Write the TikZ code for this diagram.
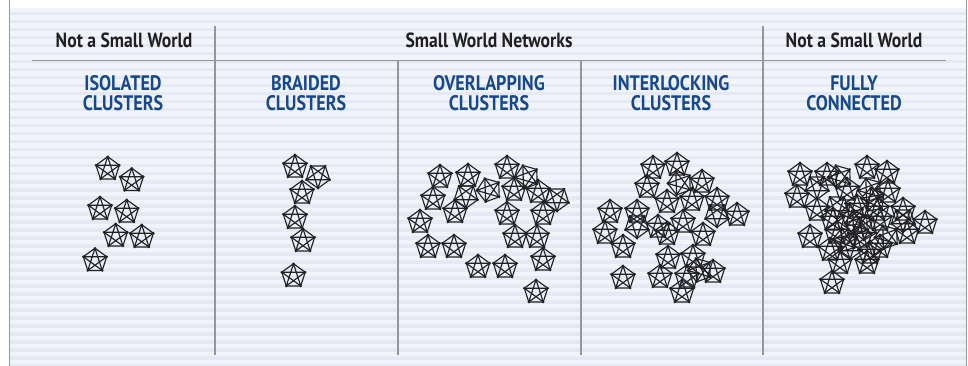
\documentclass[tikz,border=0pt]{standalone}
\usepackage{fontspec}
\newfontfamily\labelfont[FakeStretch=0.86]{PT Sans}
\definecolor{panelA}{RGB}{241,244,250}
\definecolor{panelB}{RGB}{228,233,243}
\definecolor{rulegray}{RGB}{150,150,152}
\definecolor{titleblue}{RGB}{22,72,138}
\definecolor{headink}{RGB}{35,31,32}
\definecolor{netink}{RGB}{34,34,36}
\tikzset{
  rulestyle/.style={draw=rulegray, line width=1.2pt},
  headstyle/.style={font={\labelfont\bfseries\fontsize{20.5}{22}\selectfont}, text=headink, inner sep=0pt},
  titlestyle/.style={font={\labelfont\bfseries\fontsize{21}{20}\selectfont}, text=titleblue, align=center, inner sep=0pt},
  k5edge/.style={draw=netink, line width=1.15pt, line join=round},
  k5/.pic={
    \foreach \i in {1,...,5} \coordinate (-\i) at (-90+72*\i-72:12.3);
    \draw[k5edge] (-1)--(-2)--(-3)--(-4)--(-5)--cycle;
    \draw[k5edge] (-1)--(-3)--(-5)--(-2)--(-4)--cycle;
    \foreach \i in {1,...,5} \fill[netink] (-\i) circle (1.4pt);
  }
}
\begin{document}
\begin{tikzpicture}[x=1pt, y=-1pt]
  % canvas and striped panel
  \useasboundingbox (0,0) rectangle (968,366);
  \fill[white] (0,0) rectangle (968,366);
  \fill[panelA] (10,8) rectangle (966,366);
  \foreach \s in {0,...,44} \fill[panelB] (10,{12+8*\s}) rectangle (966,{15.5+8*\s});
  \draw[rulestyle, line width=1pt] (9.5,0) -- (9.5,366);
  \draw[rulestyle, line width=1pt] (966.5,0) -- (966.5,366);

  % table rules
  \coordinate (hl) at (32,60.5);
  \coordinate (hr) at (946,60.5);
  \draw[rulestyle] (hl) -- (hr);
  \coordinate (d1t) at (215,26);  \coordinate (d1b) at (215,355);
  \coordinate (d2t) at (398,60.5);\coordinate (d2b) at (398,355);
  \coordinate (d3t) at (581,60.5);\coordinate (d3b) at (581,355);
  \coordinate (d4t) at (763,26);  \coordinate (d4b) at (763,355);
  \draw[rulestyle] (d1t) -- (d1b);
  \draw[rulestyle] (d2t) -- (d2b);
  \draw[rulestyle] (d3t) -- (d3b);
  \draw[rulestyle] (d4t) -- (d4b);

  % headings
  \node[headstyle, anchor=base] (h1) at (124,48) {Not a Small World};
  \node[headstyle, anchor=base] (h2) at (489,48) {Small World Networks};
  \node[headstyle, anchor=base] (h3) at (854,48) {Not a Small World};

  \node[titlestyle, anchor=base] (t1) at (123,111) {ISOLATED\\CLUSTERS};
  \node[titlestyle, anchor=base] (t2) at (306,111) {BRAIDED\\CLUSTERS};
  \node[titlestyle, anchor=base] (t3) at (489,111) {OVERLAPPING\\CLUSTERS};
  \node[titlestyle, anchor=base] (t4) at (671,111) {INTERLOCKING\\CLUSTERS};
  \node[titlestyle, anchor=base] (t5) at (854,111) {FULLY\\CONNECTED};

  % isolated clusters
  \foreach \x/\y/\r [count=\n] in {107.7/169/0, 131.7/180.5/0, 100/209/0, 126.7/212/0,
      115.7/236/0, 141.7/237/0, 95/260.5/0}
    \pic[rotate=\r] (iso\n) at (\x,\y) {k5};

  % braided clusters
  \foreach \x/\y/\r [count=\n] in {295/167/0, 318/176/36, 302/193/0, 295/218/0,
      303/241/0, 293.5/276/0}
    \pic[rotate=\r] (br\n) at (\x,\y) {k5};

  % overlapping clusters
  \foreach \x/\y/\r [count=\n] in {440/177/0, 468/176/0, 433/199/0, 466/196/36,
      489/190/20, 455/212/0, 507/168/0, 527/177/20, 514/190/0, 538/192/0,
      557/199/36, 507/214/0, 543/214/0, 420/222/0, 428/247/0, 454/247/0,
      515/237/0, 537/237/0, 543/260/0, 478/267/0, 505/267/0, 536/292/0}
    \pic[rotate=\r] (ov\n) at (\x,\y) {k5};

  % interlocking clusters
  \foreach \x/\y/\r [count=\n] in {653/168/0, 677/165/0, 647/187/0, 680/183/20,
      702/182/0, 667/202/0, 692/200/0, 717/200/0, 610/212/0, 637/212/0,
      717/215/36, 737/215/0, 605/233/0, 637/226/36, 658/227/0, 683/222/0,
      667/234/0, 703/235/0, 623/247/0, 668/258/0, 693/257/0, 700/270/20,
      713/272/0, 623/278/0, 660/277/0, 687/277/0, 682/292/0}
    \pic[rotate=\r] (il\n) at (\x,\y) {k5};

  % fully connected
  \foreach \x/\y/\r [count=\n] in {800/175/0, 827/175/0, 840/177/20, 867/168/0,
      887/173/0, 797/197/0, 817/187/36, 847/190/0, 870/190/20, 888/192/0,
      817/210/0, 837/207/36, 857/207/0, 877/210/0, 903/210/0, 833/220/0,
      857/223/20, 880/220/0, 903/220/36, 925/223/0, 810/237/0, 837/233/0,
      860/237/0, 887/237/20, 907/233/0, 830/250/0, 850/247/36, 870/253/0,
      880/247/0, 840/263/0, 867/263/0, 832/283/0, 852/215/10, 865/228/30,
      845/240/15, 873/200/10}
    \pic[rotate=\r] (fc\n) at (\x,\y) {k5};
\end{tikzpicture}
\end{document}
